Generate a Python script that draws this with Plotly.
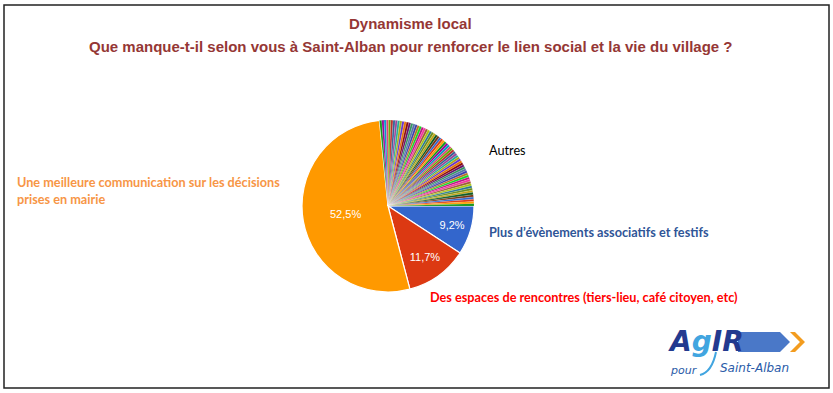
import plotly.graph_objects as go

# ---- data ----
main_labels = [
    "Plus d'évènements associatifs et festifs",
    "Des espaces de rencontres (tiers-lieu, café citoyen, etc)",
    "Une meilleure communication sur les décisions prises en mairie",
]
main_values = [9.2, 11.7, 52.5]
main_text = ["9,2%", "11,7%", "52,5%"]

autres_values = [
    0.422, 0.422, 0.422, 0.422, 0.422, 0.422, 0.422, 0.422, 0.422, 0.422,
    0.422, 0.422, 0.422, 0.422, 0.422, 0.422, 0.422, 0.422, 0.422, 0.422,
    0.422, 0.422, 0.422, 0.422, 0.422, 0.422, 0.422, 0.422, 0.422, 0.422,
    0.422, 0.422, 0.422, 0.422, 0.422, 0.422, 0.422, 0.422, 0.422, 0.422,
    0.422, 0.422, 0.422, 0.422, 0.422, 0.422, 0.422, 0.422, 0.422, 0.422,
    0.422, 0.422, 0.422, 0.422, 0.422, 0.422, 0.422, 0.422, 0.422, 0.422,
    0.422, 0.422, 0.422,
]
autres_labels = ["Autres %d" % (i + 1) for i in range(len(autres_values))]

labels = main_labels + autres_labels
values = main_values + autres_values
texts = main_text + [""] * len(autres_values)

# ---- style ----
palette = ["#3366cc", "#dc3912", "#ff9900", "#109618", "#990099", "#0099c6",
           "#dd4477", "#66aa00", "#b82e2e", "#316395", "#994499", "#22aa99",
           "#aaaa11", "#6633cc", "#e67300", "#8b0707", "#651067", "#329262",
           "#5574a6", "#3b3eac", "#b77322", "#16d620", "#b91383", "#f4359e",
           "#9c5935", "#a9c413", "#2a778d", "#668d1c", "#bea413", "#0c5922",
           "#743411"]
colors = [palette[i % len(palette)] for i in range(len(values))]
line_widths = [1.2] * len(main_values) + [0.15] * len(autres_values)

W, H = 833, 393
def px(x):
    return x / W
def py(y):
    return 1 - y / H

cx, cy, r = 388, 206, 86

fig = go.Figure(go.Pie(
    labels=labels, values=values, text=texts, textinfo="text",
    sort=False, direction="clockwise", rotation=90,
    marker=dict(colors=colors, line=dict(color="white", width=line_widths)),
    textposition="inside", insidetextorientation="horizontal",
    textfont=dict(family="Arial, Liberation Sans", size=11, color="white"),
    showlegend=False, hoverinfo="label+percent",
    domain=dict(x=[px(cx - r), px(cx + r)], y=[py(cy + r), py(cy - r)]),
))

title_color = "#953735"
lab_font = "Lato"
lab_size = 12.7
ann = [
    dict(x=px(410), y=py(24), text="<b>Dynamisme local</b>",
         font=dict(family="Liberation Sans, Arial", size=15, color=title_color),
         xanchor="center", yanchor="middle"),
    dict(x=px(410), y=py(46),
         text="<b>Que manque-t-il selon vous à Saint-Alban pour renforcer le lien social et la vie du village ?</b>",
         font=dict(family="Liberation Sans, Arial", size=15, color=title_color),
         xanchor="center", yanchor="middle"),
    dict(x=px(15), y=py(191),
         text="<b>Une meilleure communication sur les décisions<br>prises en mairie</b>",
         font=dict(family=lab_font, size=lab_size, color="#f79646"),
         xanchor="left", yanchor="middle", align="left"),
    dict(x=px(487), y=py(150), text="Autres",
         font=dict(family=lab_font, size=lab_size, color="#000000"),
         xanchor="left", yanchor="middle"),
    dict(x=px(487), y=py(232), text="<b>Plus d’évènements associatifs et festifs</b>",
         font=dict(family=lab_font, size=lab_size, color="#2f5597"),
         xanchor="left", yanchor="middle"),
    dict(x=px(428), y=py(297), text="<b>Des espaces de rencontres (tiers-lieu, café citoyen, etc)</b>",
         font=dict(family=lab_font, size=lab_size, color="#ff0000"),
         xanchor="left", yanchor="middle"),
    # logo
    dict(x=px(666), y=py(341),
         text="<b><i>A<span style='color:#41a5e0'>g</span>IR</i></b>",
         font=dict(family="DejaVu Sans", size=28, color="#233a8f"),
         xanchor="left", yanchor="middle"),
    dict(x=px(668), y=py(370), text="<i>pour</i>",
         font=dict(family="DejaVu Sans", size=11, color="#2a5ba8"),
         xanchor="left", yanchor="middle"),
    dict(x=px(718), y=py(368), text="<i>Saint-Alban</i>",
         font=dict(family="DejaVu Sans", size=12, color="#2a5ba8"),
         xanchor="left", yanchor="middle"),
]

shapes = [
    dict(type="rect", xref="paper", yref="paper",
         x0=px(4), x1=px(829), y0=py(388), y1=py(5),
         line=dict(color="#222222", width=1.5), fillcolor="rgba(0,0,0,0)"),
    # logo arrow bar
    dict(type="path", xref="paper", yref="paper",
         path="M %f,%f L %f,%f L %f,%f L %f,%f L %f,%f Z" % (
             px(738), py(332), px(780), py(332), px(790), py(342),
             px(780), py(352), px(738), py(352)),
         fillcolor="#4a78c8", line=dict(width=0)),
    dict(type="path", xref="paper", yref="paper",
         path="M %f,%f L %f,%f L %f,%f L %f,%f L %f,%f L %f,%f Z" % (
             px(790), py(332), px(795), py(332), px(805), py(342),
             px(795), py(352), px(790), py(352), px(800), py(342)),
         fillcolor="#f39c1f", line=dict(width=0)),
    dict(type="path", xref="paper", yref="paper",
         path="M %f,%f Q %f,%f %f,%f" % (px(700), py(375), px(712), py(372), px(716), py(352)),
         line=dict(color="#41a5e0", width=2)),
]

fig.update_layout(
    width=W, height=H, margin=dict(l=0, r=0, t=0, b=0),
    paper_bgcolor="white", plot_bgcolor="white",
    annotations=[dict(a, xref="paper", yref="paper", showarrow=False) for a in ann],
    shapes=shapes,
)

fig.write_html(
    "out.html",
    config={"displayModeBar": False},
    post_script="document.body.style.margin='0px';document.body.style.padding='0px';",
)
